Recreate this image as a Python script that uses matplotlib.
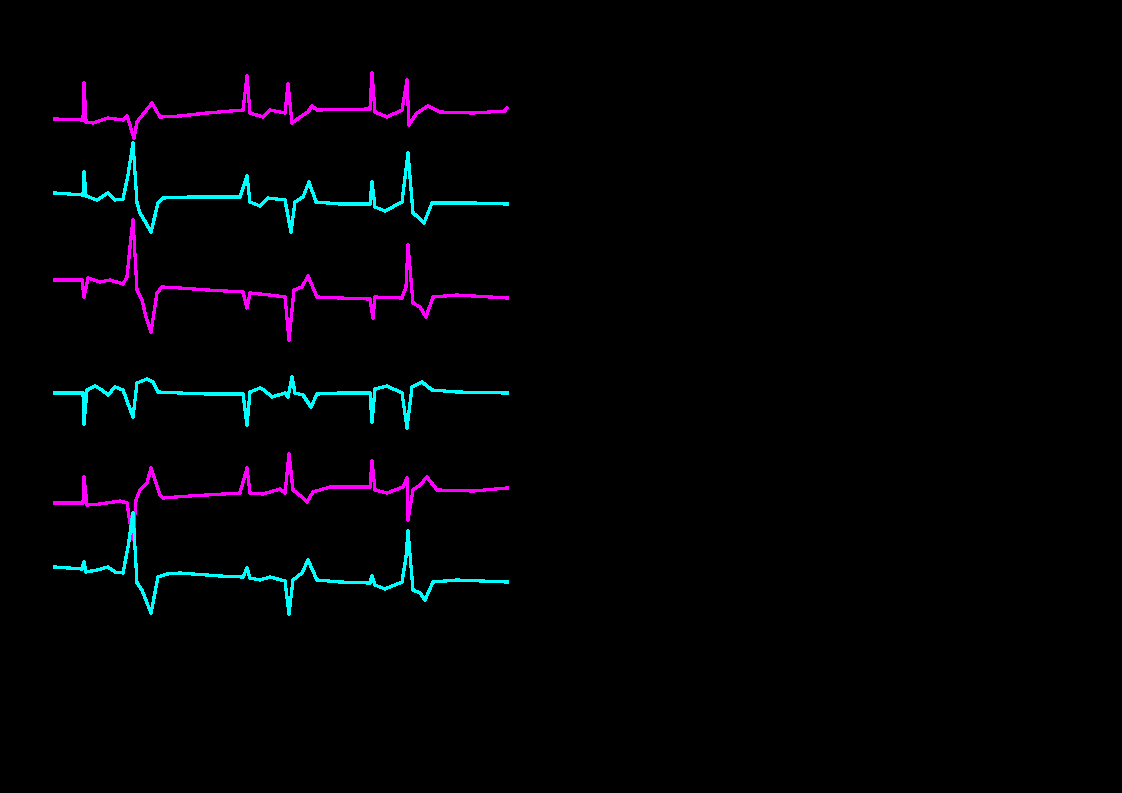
import matplotlib
matplotlib.use('Agg')
import matplotlib.pyplot as plt

# six leads, time in samples, amplitude in arbitrary units (up = positive)
t1 = [0, 28, 29, 31, 38, 53, 68, 72, 79, 82, 97, 105, 125, 152, 188, 192, 195, 208, 215, 225, 230, 233, 237,
      248, 253, 257, 262, 315, 317, 320, 332, 347, 352, 354, 362, 373, 385, 418, 450, 452]
a1 = [0, -1, 36, -3, -4, 1, -1, 3, -19, -3, 16, 2, 3, 6, 9, 43, 6, 2, 9, 7, 6, 35, -4,
      4, 7, 13, 9, 10, 46, 7, 2, 9, 39, -6, 6, 13, 7, 6, 8, 11]

t2 = [0, 28, 29, 31, 42, 53, 60, 68, 73, 78, 82, 85, 91, 96, 103, 108, 135, 185, 192, 195, 205, 213, 230,
      236, 240, 248, 254, 261, 285, 315, 317, 320, 330, 347, 353, 358, 363, 369, 377, 418, 452]
a2 = [0, -2, 21, -3, -7, 0, -7, -6, 18, 50, -10, -20, -30, -39, -10, -5, -4, -4, 17, -9, -13, -5, -7,
      -39, -9, -4, 11, -9, -11, -11, 11, -14, -18, -9, 40, -20, -24, -30, -10, -10, -11]

t3 = [0, 27, 29, 33, 45, 55, 68, 72, 75, 78, 82, 87, 91, 96, 102, 107, 125, 152, 188, 192, 195, 215, 230,
      234, 239, 247, 253, 262, 285, 315, 318, 320, 347, 351, 353, 358, 365, 371, 378, 402, 452]
a3 = [0, 0, -17, 2, -2, 0, -4, 3, 33, 60, -10, -20, -37, -52, -13, -7, -8, -10, -12, -28, -13, -15, -17,
      -60, -10, -7, 4, -17, -18, -19, -38, -17, -18, -7, 35, -23, -27, -37, -17, -15, -18]

t4 = [0, 28, 29, 32, 40, 47, 53, 60, 68, 78, 82, 92, 98, 103, 125, 152, 188, 192, 195, 205, 209, 217, 230,
      233, 237, 240, 248, 256, 262, 285, 315, 317, 320, 332, 347, 352, 357, 367, 377, 402, 452]
a4 = [0, 0, -31, 3, 7, 3, -2, 6, 3, -24, 10, 14, 11, 1, 0, -1, -1, -32, 1, 5, 3, -4, 0,
      -4, 16, 0, -2, -14, -1, 0, 0, -29, 4, 7, 0, -35, 6, 11, 3, 1, 0]

t5 = [0, 28, 29, 32, 45, 65, 72, 75, 78, 81, 85, 92, 96, 105, 108, 135, 185, 192, 195, 208, 225, 230,
      234, 238, 247, 252, 258, 275, 315, 317, 320, 332, 348, 352, 353, 358, 365, 372, 382, 418, 452]
a5 = [0, 0, 26, -2, -1, 2, 0, -20, -36, 3, 13, 20, 35, 8, 5, 7, 10, 35, 10, 9, 14, 10,
      49, 13, 6, 1, 11, 16, 16, 42, 13, 10, 16, 25, -17, 13, 18, 26, 13, 12, 15]

t6 = [0, 27, 29, 31, 42, 53, 60, 68, 73, 78, 82, 87, 92, 96, 103, 112, 125, 165, 188, 192, 195, 205, 215,
      230, 234, 238, 247, 253, 262, 285, 315, 317, 320, 330, 347, 351, 353, 358, 365, 370, 378, 402, 452]
a6 = [0, -2, 5, -5, -3, 0, -5, -6, 20, 54, -16, -23, -36, -46, -10, -7, -6, -9, -10, -1, -11, -13, -10,
      -14, -47, -13, -6, 7, -13, -15, -16, -9, -18, -22, -15, 10, 36, -23, -26, -33, -15, -13, -15]

times = [t1, t2, t3, t4, t5, t6]
amps = [a1, a2, a3, a4, a5, a6]

# layout: vertical baseline of each lead and trace colours
baselines = [119, 193, 280, 393, 503, 567]
colors = ['#ff00ff', '#00ffff', '#ff00ff', '#00ffff', '#ff00ff', '#00ffff']

fig = plt.figure(figsize=(11.22, 7.93), dpi=100, facecolor='black')
ax = fig.add_axes([0, 0, 1, 1])
ax.set_facecolor('black')

for t, a, b, c in zip(times, amps, baselines, colors):
    ax.plot(t, [b - v for v in a], color=c, lw=1.6, antialiased=False)

ax.set_xlim(-55, 1067)
ax.set_ylim(793, 0)
ax.axis('off')

fig.savefig('out.png', dpi=100, facecolor='black')
